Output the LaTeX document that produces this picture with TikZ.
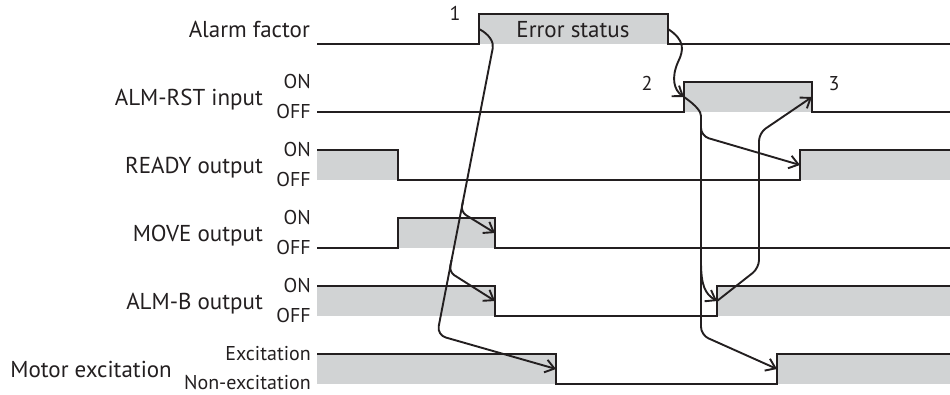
\documentclass[tikz,border=0pt]{standalone}
\usepackage{fontspec}
\setmainfont{PT Sans}
\usetikzlibrary{arrows.meta}

\definecolor{sigfill}{RGB}{209,211,212}
\definecolor{ink}{RGB}{35,31,32}

\tikzset{
  sig/.style={color=ink,line width=1.3pt},
  arr/.style={->,color=ink,line width=1.9pt},
  signame/.style={anchor=base east,inner sep=0pt,font=\fontsize{23}{27}\selectfont,text=ink},
  lvl/.style={anchor=base east,inner sep=0pt,font=\fontsize{20}{24}\selectfont,text=ink},
  num/.style={anchor=base,inner sep=0pt,font=\fontsize{20}{24}\selectfont,text=ink}
}

\begin{document}
\begin{tikzpicture}[x=1pt,y=-1pt,>={Straight Barb[length=9pt,width=13pt]}]

\useasboundingbox (0,0) rectangle (950,394);

% high parts
\fill[sigfill] (479,14) rectangle (668,44);
\fill[sigfill] (684,82) rectangle (812,112);
\fill[sigfill] (317,150) rectangle (398,180);
\fill[sigfill] (800,150) rectangle (950,180);
\fill[sigfill] (398,218) rectangle (495,248);
\fill[sigfill] (317,286) rectangle (495,316);
\fill[sigfill] (717,286) rectangle (950,316);
\fill[sigfill] (317,354) rectangle (556,384);
\fill[sigfill] (777,354) rectangle (950,384);

\draw[sig] (317,44)--(479,44)--(479,14)--(668,14)--(668,44)--(950,44);
\draw[sig] (317,112)--(684,112)--(684,82)--(812,82)--(812,112)--(950,112);
\draw[sig] (317,150)--(398,150)--(398,180)--(800,180)--(800,150)--(950,150);
\draw[sig] (317,248)--(398,248)--(398,218)--(495,218)--(495,248)--(950,248);
\draw[sig] (317,286)--(495,286)--(495,316)--(717,316)--(717,286)--(950,286);
\draw[sig] (317,354)--(556,354)--(556,384)--(777,384)--(777,354)--(950,354);

% signal names
\node[signame] (alarm) at (310,37) {Alarm factor};
\node[signame] (almrst) at (263,105) {ALM-RST input};
\node[signame] (ready) at (263,173) {READY output};
\node[signame] (move) at (263,241) {MOVE output};
\node[signame] (almb) at (263,309) {ALM-B output};
\node[signame] (motor) at (172,377) {Motor excitation};

\foreach \i in {1,...,4}{
  \node[lvl] (on\i) at (311,{14+68*\i+6.5}) {ON};
  \node[lvl] (off\i) at (311,{44+68*\i+6.5}) {OFF};
}
\node[lvl] (exc) at (311,360) {Excitation};
\node[lvl] (nonexc) at (311,389) {Non-excitation};

\node[signame] (err) at (573,37) [anchor=base] {Error status};
\node[num] (n1) at (455,20.5) {1};
\node[num] (n2) at (647,90) {2};
\node[num] (n3) at (834,90) {3};

% edges
\coordinate (afon) at (479,29);
\coordinate (afoff) at (668,29);
\coordinate (rston) at (684,97);
\coordinate (rstoff) at (812,97);
\coordinate (rdyon) at (800,165);
\coordinate (mvoff) at (495,233);
\coordinate (boff) at (495,301);
\coordinate (bon) at (717,301);
\coordinate (excoff) at (556,369);
\coordinate (excon) at (777,369);

% 1
\draw[arr,rounded corners=9pt] (afon) .. controls (489,34) and (494,42) .. (491,57)
  -- (437,335) -- (excoff);
\draw[arr,rounded corners=6pt] (463.2,200) -- (460.9,212) -- (mvoff);
\draw[arr,rounded corners=6pt] (451.5,260) -- (449.2,272) -- (boff);

% 2
\draw[arr] (afoff) .. controls (685,40) and (684,50) .. (678,62)
  .. controls (671,78) and (674,90) .. (rston);
\draw[arr,rounded corners=8pt] (rston) .. controls (697,106) and (701,112) .. (701,124)
  -- (701,136) -- (rdyon);
\draw[arr,rounded corners=8pt] (701,124) -- (701,335) -- (excon);
\draw[arr] (701,262) .. controls (701,285) and (705,294) .. (bon);

% 3
\draw[arr,rounded corners=8pt] (bon) -- (759,268) -- (759,133) -- (rstoff);

\end{tikzpicture}
\end{document}
